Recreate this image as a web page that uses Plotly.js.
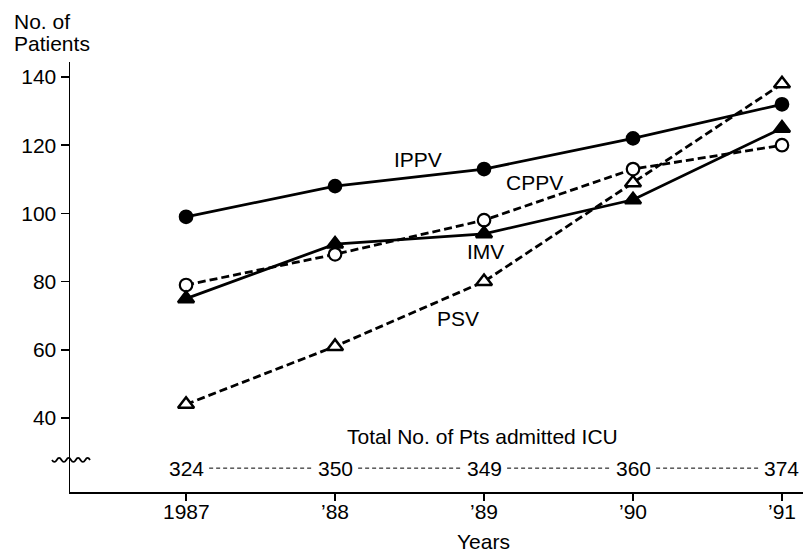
<!DOCTYPE html>
<html>
<head>
<meta charset="utf-8">
<script src="https://cdn.plot.ly/plotly-3.0.1.min.js"></script>
<style>html,body{margin:0;padding:0;background:#fff;}#chart{width:804px;height:554px;}</style>
</head>
<body>
<div id="chart"></div>
<script>
var years = [1987, 1988, 1989, 1990, 1991];
var yearLabels = ['1987', '\u201988', '\u201989', '\u201990', '\u201991'];
var ippv = [99, 108, 113, 122, 132];
var cppv = [79, 88, 98, 113, 120];
var imv  = [75, 91, 94, 104, 125];
var psv  = [44, 61, 80, 109, 138];
var totals = [324, 350, 349, 360, 374];
var yTicks = [40, 60, 80, 100, 120, 140];

var FONT = 'Liberation Sans, Arial, Helvetica, sans-serif';
var FS = 21;
var DASH = '8px,4px';

function series(name, y, symbol, fill, dash) {
  var tri = symbol.indexOf('triangle') === 0;
  return {
    x: years, y: y, name: name, type: 'scatter', mode: 'lines+markers',
    line: {color: '#000', width: 2.8, dash: dash},
    marker: {symbol: symbol, size: tri ? 14 : 12.5,
             color: fill, line: {color: '#000', width: tri ? 2.5 : 2.2}},
    hoverinfo: 'x+y'
  };
}

var data = [
  series('PSV', psv, 'triangle-up', '#fff', DASH),
  series('CPPV', cppv, 'circle', '#fff', DASH),
  series('IMV', imv, 'triangle-up', '#000', 'solid'),
  series('IPPV', ippv, 'circle', '#000', 'solid')
];

function txt(s, size) { return {family: FONT, size: size || FS, color: '#000'}; }

var totalsY = 25.3;
var annotations = [];
totals.forEach(function (t, i) {
  annotations.push({x: years[i], y: totalsY, xref: 'x', yref: 'y', text: String(t),
    showarrow: false, font: txt(), xanchor: 'center', yanchor: 'middle'});
});
yearLabels.forEach(function (t, i) {
  annotations.push({x: years[i], y: -0.0442, xref: 'x', yref: 'paper', text: t,
    showarrow: false, font: txt(), xanchor: 'center', yanchor: 'middle'});
});
var labels = [
  {t: 'IPPV', x: 1988.557, y: 115.7},
  {t: 'CPPV', x: 1989.342, y: 109.2},
  {t: 'IMV',  x: 1989.007, y: 88.8},
  {t: 'PSV',  x: 1988.828, y: 69.2},
  {t: 'Total No. of Pts admitted ICU', x: 1988.987, y: 34.7}
];
labels.forEach(function (l) {
  annotations.push({x: l.x, y: l.y, xref: 'x', yref: 'y', text: l.t, showarrow: false,
    font: txt(), xanchor: 'center', yanchor: 'middle'});
});
annotations.push({x: -0.0791, y: 1.0953, xref: 'paper', yref: 'paper', text: 'No. of', showarrow: false,
  xanchor: 'left', yanchor: 'middle', font: txt()});
annotations.push({x: -0.0791, y: 1.044, xref: 'paper', yref: 'paper', text: 'Patients', showarrow: false,
  xanchor: 'left', yanchor: 'middle', font: txt()});
annotations.push({x: 0.5648, y: -0.114, xref: 'paper', yref: 'paper', text: 'Years', showarrow: false,
  xanchor: 'center', yanchor: 'middle', font: txt(20)});

var shapes = [];
for (var i = 0; i < years.length - 1; i++) {
  shapes.push({type: 'line', xref: 'x', yref: 'y', x0: years[i] + 0.155, x1: years[i + 1] - 0.155,
    y0: totalsY, y1: totalsY, line: {color: '#000', width: 1, dash: '4px,3px'}});
}
shapes.push({type: 'path', xref: 'paper', yref: 'y', xsizemode: 'pixel', ysizemode: 'pixel',
  xanchor: 0, yanchor: 27.7,
  path: 'M-18,0 Q-15.6,-4 -13.25,0 T-8.5,0 T-3.75,0 T1,0 T5.75,0 T10.5,0 T15.25,0 T20,0',
  line: {color: '#000', width: 1.8}});

var layout = {
  width: 804, height: 554,
  margin: {l: 70, r: 1, t: 62, b: 62, pad: 0},
  paper_bgcolor: '#fff', plot_bgcolor: '#fff',
  showlegend: false,
  font: {family: FONT, size: FS, color: '#000'},
  xaxis: {
    range: [1986.221, 1991.141], tickvals: years, ticktext: yearLabels, showticklabels: false,
    showgrid: false, zeroline: false, showline: true, linecolor: '#000', linewidth: 1.5,
    ticks: 'outside', ticklen: 7, tickwidth: 1.5, tickcolor: '#000', fixedrange: true
  },
  yaxis: {
    range: [18.3, 144.4], tickvals: yTicks, ticktext: yTicks.map(String),
    showgrid: false, zeroline: false, showline: true, linecolor: '#000', linewidth: 1.5,
    ticks: 'outside', ticklen: 8, tickwidth: 1.5, tickcolor: '#000',
    tickfont: txt(), fixedrange: true
  },
  annotations: annotations,
  shapes: shapes
};

Plotly.newPlot('chart', data, layout, {displayModeBar: false, staticPlot: true});
</script>
</body>
</html>
